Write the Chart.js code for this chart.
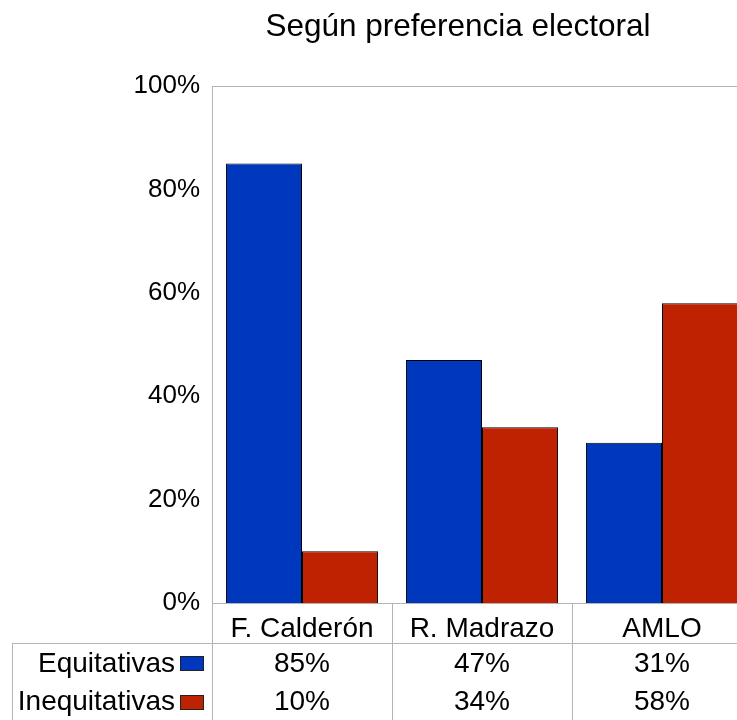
<!DOCTYPE html>
<html>
<head>
<meta charset="utf-8">
<script src="https://cdn.jsdelivr.net/npm/chart.js@4/dist/chart.umd.min.js"></script>
<style>
html,body{margin:0;padding:0;background:#fff;overflow:hidden;}
#wrap{width:752px;height:720px;}
</style>
</head>
<body>
<div id="wrap"><canvas id="c" width="752" height="720"></canvas></div>
<script>
const titleText = 'Según preferencia electoral';
const categories = ['F. Calderón', 'R. Madrazo', 'AMLO'];
const seriesNames = ['Equitativas', 'Inequitativas'];
const equitativas = [85, 47, 31];
const inequitativas = [10, 34, 58];
const seriesColors = ['#0038BD', '#BE2200'];
const gridColor = '#b3b3b3';
const FONT = "'Liberation Sans', Arial, Helvetica, sans-serif";

Chart.defaults.font.family = FONT;
Chart.defaults.color = '#000';

const tablePlugin = {
  id: 'tablePlugin',
  beforeDatasetsDraw(chart) {
    const {ctx, chartArea: a} = chart;
    ctx.save();
    ctx.strokeStyle = gridColor;
    ctx.lineWidth = 1;
    ctx.beginPath();
    ctx.moveTo(a.left + 0.5, a.top + 0.5);
    ctx.lineTo(a.right, a.top + 0.5);
    ctx.moveTo(a.left + 0.5, a.top);
    ctx.lineTo(a.left + 0.5, chart.height);
    ctx.moveTo(a.left, a.bottom + 0.5);
    ctx.lineTo(a.right, a.bottom + 0.5);
    ctx.stroke();
    ctx.restore();
  },
  afterDraw(chart) {
    const {ctx, chartArea: a} = chart;
    const x = chart.scales.x;
    const half = (x.getPixelForValue(1) - x.getPixelForValue(0)) / 2;
    const rowTop = a.bottom + 40;
    const rowH = (chart.height - rowTop) / 2;
    ctx.save();
    // title
    ctx.font = '31.5px ' + FONT;
    ctx.fillStyle = '#000';
    ctx.textAlign = 'center';
    ctx.textBaseline = 'middle';
    ctx.fillText(titleText, 458, 27);

    ctx.strokeStyle = gridColor;
    ctx.lineWidth = 1;
    ctx.beginPath();
    for (let i = 0; i < categories.length; i++) {
      const bx = Math.round(x.getPixelForValue(i) + half) + 0.5;
      ctx.moveTo(bx, a.bottom);
      ctx.lineTo(bx, chart.height);
    }
    ctx.moveTo(12, rowTop + 0.5);
    ctx.lineTo(a.right, rowTop + 0.5);
    ctx.moveTo(12.5, rowTop);
    ctx.lineTo(12.5, chart.height);
    ctx.stroke();

    ctx.font = '28px ' + FONT;
    ctx.textBaseline = 'middle';
    const series = [equitativas, inequitativas];
    series.forEach((vals, r) => {
      const cy = rowTop + rowH * r + rowH / 2 + 2;
      ctx.textAlign = 'right';
      ctx.fillStyle = '#000';
      ctx.fillText(seriesNames[r], 175, cy);
      ctx.fillStyle = seriesColors[r];
      ctx.fillRect(180, Math.round(cy - 8), 24, 15);
      ctx.strokeStyle = '#222';
      ctx.strokeRect(180.5, Math.round(cy - 8) + 0.5, 23, 14);
      ctx.fillStyle = '#000';
      ctx.textAlign = 'center';
      vals.forEach((v, i) => {
        ctx.fillText(v + '%', x.getPixelForValue(i), cy);
      });
    });
    ctx.restore();
  }
};

new Chart(document.getElementById('c'), {
  type: 'bar',
  data: {
    labels: categories,
    datasets: [
      {label: seriesNames[0], data: equitativas, backgroundColor: seriesColors[0], borderColor: '#000', borderWidth: 1, categoryPercentage: 0.845, barPercentage: 1},
      {label: seriesNames[1], data: inequitativas, backgroundColor: seriesColors[1], borderColor: '#000', borderWidth: 1, categoryPercentage: 0.845, barPercentage: 1}
    ]
  },
  options: {
    responsive: false,
    animation: false,
    events: [],
    layout: {padding: {left: 0, right: 0, top: 86, bottom: 77}},
    plugins: {
      legend: {display: false},
      tooltip: {enabled: false},
      title: {display: false}
    },
    scales: {
      x: {
        grid: {display: false, drawTicks: false},
        border: {display: false},
        ticks: {font: {size: 28}, color: '#000', padding: 9, maxRotation: 0},
        afterFit(s) { s.height = 40; }
      },
      y: {
        min: 0,
        max: 100,
        grid: {display: false, drawTicks: false},
        border: {display: false},
        ticks: {stepSize: 20, font: {size: 26}, color: '#000', padding: 12, callback: v => v + '%'},
        afterFit(s) { s.width = 212; }
      }
    }
  },
  plugins: [tablePlugin]
});
</script>
</body>
</html>
